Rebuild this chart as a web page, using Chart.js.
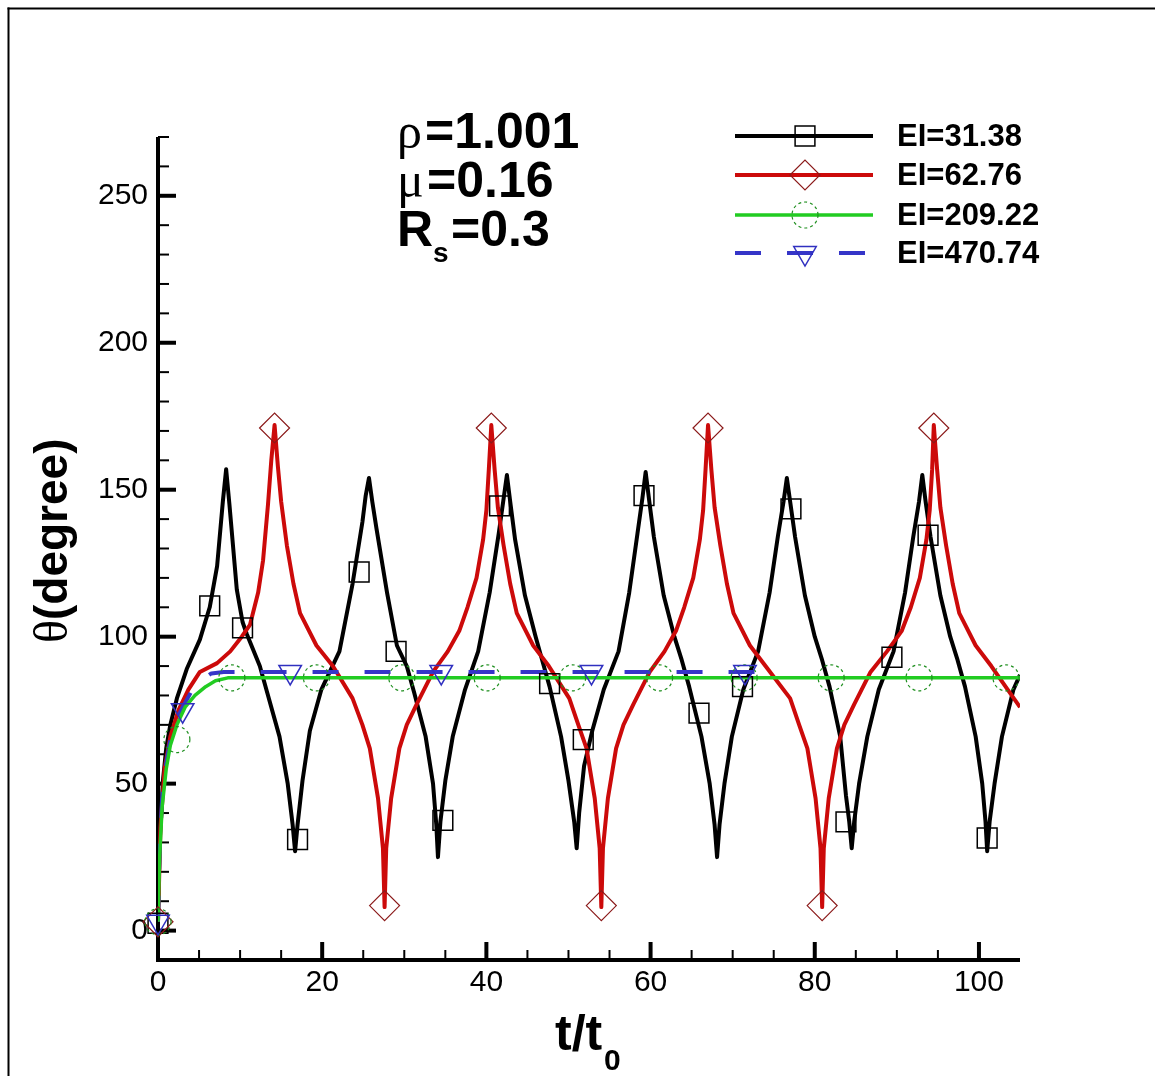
<!DOCTYPE html>
<html>
<head>
<meta charset="utf-8">
<script src="https://cdn.jsdelivr.net/npm/chart.js@4.4.1/dist/chart.umd.min.js"></script>
<style>
  html, body { margin: 0; padding: 0; background: #fff; }
  canvas { display: block; }
</style>
</head>
<body>
<canvas id="chart-theta" width="1155" height="1076"></canvas>
<script>
/* data
# ------------------------------------------------------------------------------------------------
*/
const seriesLabels = ['EI=31.38', 'EI=62.76', 'EI=209.22', 'EI=470.74'];
const xTicks = [0, 20, 40, 60, 80, 100];
const yTicks = [0, 50, 100, 150, 200, 250];

// EI=31.38 (black)
const blackT = [0, 0.2, 0.6, 1.0, 1.5, 2.3, 3.5, 5.1, 6.3, 7.2, 7.9, 8.3,
  8.7, 9.6, 10.3, 10.8, 12.4, 13.3, 14.8, 15.8, 16.4, 16.7,
  17.0, 17.6, 18.5, 19.9, 22.1, 23.7, 24.9, 25.3, 25.7,
  26.1, 26.6, 27.9, 29.1, 30.3, 31.2, 32.6, 33.5, 33.9, 34.1,
  34.4, 35.0, 35.9, 37.4, 39.0, 40.4, 41.5, 42.1, 42.5,
  42.9, 43.5, 44.7, 46.0, 46.8, 47.7, 49.1, 50.0, 50.7, 51.0,
  51.3, 51.9, 52.9, 54.3, 56.1, 57.4, 58.4, 59.0, 59.4,
  59.8, 60.4, 61.6, 62.9, 63.8, 64.7, 66.2, 67.2, 67.8, 68.1,
  68.4, 69.0, 69.9, 71.3, 73.1, 74.5, 75.5, 76.2, 76.6,
  77.0, 77.6, 78.8, 80.0, 80.9, 81.8, 83.1, 83.8, 84.2, 84.5,
  84.8, 85.4, 86.4, 87.8, 89.6, 91.0, 92.0, 92.7, 93.1,
  93.5, 94.1, 95.3, 96.5, 97.4, 98.3, 99.6, 100.4, 100.8, 101.0,
  101.3, 101.9, 102.8, 104.2, 105.0];
const blackTheta = [3, 30, 51, 62, 70, 79, 89, 99, 110, 124, 146, 157,
  145, 116, 105, 101, 90, 81, 66, 50, 36, 27,
  36, 51, 68, 82, 95, 118, 139, 148, 154,
  146, 137, 115, 97, 90, 81, 66, 50, 36, 25,
  37, 51, 66, 82, 95, 115, 135, 147, 155,
  146, 133, 114, 100, 92, 83, 66, 51, 37, 28,
  40, 56, 68, 82, 95, 115, 135, 147, 156,
  147, 134, 114, 100, 92, 83, 66, 50, 36, 25,
  36, 50, 66, 82, 95, 115, 134, 146, 154,
  146, 134, 114, 100, 92, 83, 66, 46, 37, 28,
  37, 50, 66, 82, 95, 115, 134, 146, 155,
  146, 134, 114, 100, 92, 83, 66, 50, 37, 27,
  37, 50, 66, 82, 87];
const blackMarkT = [0, 6.3, 10.3, 17.0, 24.5, 29.0, 34.7, 41.6, 47.7, 51.8, 59.2, 65.9, 71.2, 77.1, 83.8, 89.4, 93.8, 101.0];
const blackMarkTheta = [2.5, 110.5, 103, 31, 122, 95, 37.5, 144.5, 84, 65, 148, 74, 83, 143.5, 37, 93, 134.5, 31.5];

// EI=62.76 (red)
const redT = [0, 0.3, 0.8, 1.5, 2.5, 3.7, 5.1, 7.2, 8.8, 10.2, 11.2, 12.2, 12.8, 13.4, 13.8, 14.2,
  14.6, 15.0, 15.7, 16.5, 17.3, 19.3, 21.3, 23.7, 24.9, 25.8, 26.8, 27.4, 27.6,
  27.8, 28.4, 29.4, 30.3, 31.5, 33.5, 35.3, 36.7, 37.7, 38.8, 39.6, 40.0, 40.3, 40.6,
  41.0, 41.4, 42.1, 42.9, 43.7, 45.7, 47.6, 50.1, 51.2, 52.2, 53.2, 53.8, 54.0,
  54.2, 54.8, 55.8, 56.7, 57.9, 59.9, 61.7, 63.1, 64.1, 65.2, 66.0, 66.4, 66.7, 67.0,
  67.4, 67.8, 68.5, 69.3, 70.1, 72.1, 74.0, 77.0, 78.1, 79.1, 80.1, 80.7, 80.9,
  81.1, 81.7, 82.7, 83.6, 84.8, 86.8, 88.8, 90.6, 91.7, 92.8, 93.6, 94.0, 94.3, 94.5,
  94.9, 95.3, 96.0, 96.8, 97.6, 99.6, 101.5, 103.5, 105.0];
const redTheta = [3, 35, 55, 66, 75, 82, 88, 91, 95, 100, 104, 115, 126, 145, 160, 172,
  158, 146, 131, 118, 108, 97, 90, 79, 70, 62, 45, 28, 8,
  28, 45, 62, 70, 77, 88, 95, 102, 110, 120, 133, 143, 157, 172,
  157, 144, 131, 118, 108, 97, 90, 79, 70, 62, 45, 28, 8,
  28, 45, 62, 70, 77, 88, 95, 102, 110, 120, 133, 143, 157, 172,
  157, 144, 131, 118, 108, 97, 90, 79, 70, 62, 45, 28, 8,
  28, 45, 62, 70, 77, 88, 95, 102, 110, 120, 133, 143, 157, 172,
  157, 144, 131, 118, 108, 97, 90, 82, 76];
const redMarkT = [0, 14.2, 27.6, 40.6, 54.0, 67.0, 80.9, 94.5];
const redMarkTheta = [3, 171, 8.5, 171, 8.5, 171, 8.5, 171];

// EI=209.22 (green)
const greenT = [0, 0.2, 0.5, 1.0, 1.5, 2.3, 3.3, 4.5, 5.8, 7.0, 8.5, 105];
const greenTheta = [3, 25, 42, 55, 63, 70, 76, 80, 83, 85, 86, 86];
const greenMarkT = [0, 2.3, 9.0, 19.3, 29.7, 40.1, 50.5, 61.1, 71.4, 82.0, 92.7, 103.3];
const greenMarkTheta = [3, 65, 86, 86, 86, 86, 86, 86, 86, 86, 86, 86];

// EI=470.74 (blue, dashed)
const blueT = [0, 0.2, 0.5, 1.0, 1.5, 2.3, 3.0, 4.0, 5.2, 6.5, 8.0, 73.0];
const blueTheta = [3, 28, 45, 57, 65, 72, 76, 81, 85, 87.5, 88, 88];
const blueMarkT = [0, 3.0, 16.1, 34.5, 52.8, 71.5];
const blueMarkTheta = [3, 75, 88, 88, 88, 88];

/* styles
# ------------------------------------------------------------------------------------------------
*/
const SANS = '"Liberation Sans", Arial, sans-serif';
const SERIF = '"Liberation Serif", "DejaVu Serif", serif';
const lineColors = ['#000000', '#cc0a0a', '#22cc22', '#3535c8'];
const markColors = ['#000000', '#8b1a1a', '#1f8f1f', '#3030c0'];
const markStyles = ['rect', 'rectRot', 'circle', 'triangle'];
const markRadius = [14, 15, 13, 13];

function pts(ts, vs) {
  return ts.map((t, i) => ({ x: t, y: vs[i] }));
}

function lineSet(i, ts, vs, extra) {
  return Object.assign({
    label: seriesLabels[i],
    data: pts(ts, vs),
    borderColor: lineColors[i],
    borderWidth: 4,
    pointRadius: 0,
    pointHoverRadius: 0,
    tension: 0,
    fill: false,
    borderJoinStyle: 'round'
  }, extra || {});
}

function markSet(i, ts, vs, extra) {
  return Object.assign({
    label: seriesLabels[i] + ' markers',
    data: pts(ts, vs),
    showLine: false,
    pointStyle: markStyles[i],
    pointRadius: markRadius[i],
    pointHoverRadius: markRadius[i],
    pointBorderColor: markColors[i],
    pointBorderWidth: 1.5,
    pointBackgroundColor: 'rgba(0,0,0,0)',
    clip: false
  }, extra || {});
}

const datasets = [
  lineSet(0, blackT, blackTheta, { order: 8 }),
  lineSet(1, redT, redTheta, { order: 7 }),
  lineSet(3, blueT, blueTheta, { order: 6, borderDash: [26, 26] }),
  lineSet(2, greenT, greenTheta, { order: 5, borderWidth: 3.5 }),
  markSet(0, blackMarkT, blackMarkTheta, { order: 4 }),
  markSet(1, redMarkT, redMarkTheta, { order: 3, pointBorderWidth: 1.2 }),
  markSet(2, greenMarkT, greenMarkTheta, { order: 2, pointBorderWidth: 1.2, dashedMarks: true }),
  markSet(3, blueMarkT, blueMarkTheta, { order: 1, pointRotation: 180 })
];

/* axes, legend and labels
# ------------------------------------------------------------------------------------------------
*/
function seg(ctx, x1, y1, x2, y2) {
  ctx.beginPath();
  ctx.moveTo(x1, y1);
  ctx.lineTo(x2, y2);
  ctx.stroke();
}

function legendMark(ctx, style, x, y, r) {
  ctx.beginPath();
  if (style === 'rect') {
    const s = r * Math.SQRT1_2;
    ctx.rect(x - s, y - s, 2 * s, 2 * s);
  } else if (style === 'rectRot') {
    ctx.moveTo(x - r, y); ctx.lineTo(x, y - r); ctx.lineTo(x + r, y); ctx.lineTo(x, y + r);
    ctx.closePath();
  } else if (style === 'circle') {
    ctx.arc(x, y, r, 0, Math.PI * 2);
  } else {
    const h = r * Math.sqrt(3) / 2;
    ctx.moveTo(x - h, y - r / 2); ctx.lineTo(x + h, y - r / 2); ctx.lineTo(x, y + r);
    ctx.closePath();
  }
  ctx.stroke();
}

const decor = {
  id: 'decor',
  beforeDatasetDraw(chart, args) {
    if (chart.data.datasets[args.index].dashedMarks) {
      chart.ctx.save();
      chart.ctx.setLineDash([3, 3]);
    }
  },
  afterDatasetDraw(chart, args) {
    if (chart.data.datasets[args.index].dashedMarks) chart.ctx.restore();
  },
  beforeDatasetsDraw(chart) {
    const ctx = chart.ctx, xs = chart.scales.x, ys = chart.scales.y;
    const L = chart.chartArea.left, R = chart.chartArea.right;
    const T = chart.chartArea.top, B = chart.chartArea.bottom;
    ctx.save();
    ctx.strokeStyle = '#000';
    ctx.lineCap = 'butt';

    // minor ticks, pointing inward
    ctx.lineWidth = 2;
    for (let v = 10; v <= 270; v += 10) {
      if (v % 50 === 0) continue;
      const y = ys.getPixelForValue(v);
      seg(ctx, L, y, L + 11, y);
    }
    for (let v = 5; v < 105; v += 5) {
      if (v % 20 === 0) continue;
      const x = xs.getPixelForValue(v);
      seg(ctx, x, B, x, B - 10);
    }

    // major ticks
    ctx.lineWidth = 4;
    yTicks.forEach(v => {
      const y = ys.getPixelForValue(v);
      seg(ctx, L, y, L + 18, y);
    });
    xTicks.forEach(v => {
      const x = xs.getPixelForValue(v);
      seg(ctx, x, B, x, B - 18);
    });

    // axis lines
    seg(ctx, L, T, L, B + 2);
    seg(ctx, L - 2, B, R, B);
    ctx.restore();
  },
  afterDraw(chart) {
    const ctx = chart.ctx;
    ctx.save();

    // legend
    const rows = [136, 175, 215, 253];
    const order = [0, 1, 2, 3];
    order.forEach(i => {
      const y = rows[i];
      ctx.strokeStyle = lineColors[i];
      ctx.lineWidth = i === 2 ? 3.5 : 4;
      ctx.setLineDash(i === 3 ? [26, 26] : []);
      seg(ctx, 735, y, 873, y);
      ctx.setLineDash(i === 2 ? [3, 3] : []);
      ctx.strokeStyle = markColors[i];
      ctx.lineWidth = i === 1 || i === 2 ? 1.2 : 1.5;
      legendMark(ctx, markStyles[i], 805, y, markRadius[i]);
      ctx.setLineDash([]);
      ctx.fillStyle = '#000';
      ctx.font = 'bold 31px ' + SANS;
      ctx.textBaseline = 'middle';
      ctx.textAlign = 'left';
      ctx.fillText(seriesLabels[i], 897, y + 1);
    });

    // parameters
    ctx.textBaseline = 'alphabetic';
    ctx.fillStyle = '#000';
    ctx.font = '50px ' + SERIF;
    ctx.fillText('\u03C1', 397, 148);
    ctx.fillText('\u03BC', 397, 197);
    ctx.font = 'bold 50px ' + SANS;
    ctx.fillText('=1.001', 425, 148);
    ctx.fillText('=0.16', 427, 197);
    ctx.fillText('R', 397, 246);
    ctx.font = 'bold 28px ' + SANS;
    ctx.fillText('s', 433, 262);
    ctx.font = 'bold 50px ' + SANS;
    ctx.fillText('=0.3', 451, 246);

    // x title
    ctx.font = 'bold 50px ' + SANS;
    ctx.fillText('t/t', 555, 1050);
    ctx.font = 'bold 30px ' + SANS;
    ctx.fillText('0', 604, 1070);

    // y title
    ctx.save();
    ctx.translate(67, 643);
    ctx.rotate(-Math.PI / 2);
    ctx.font = '48px ' + SERIF;
    ctx.fillText('\u03B8', 0, 0);
    const w = ctx.measureText('\u03B8').width;
    ctx.font = 'bold 46px ' + SANS;
    ctx.fillText('(degree)', w, 0);
    ctx.restore();

    // frame edge
    ctx.strokeStyle = '#000';
    ctx.lineWidth = 2;
    seg(ctx, 8.5, 1076, 8.5, 7.5);
    seg(ctx, 7.5, 8.5, 1155, 8.5);
    ctx.restore();
  }
};

/* chart
# ------------------------------------------------------------------------------------------------
*/
const canvas = document.getElementById('chart-theta');

new Chart(canvas, {
  type: 'line',
  data: { datasets: datasets },
  options: {
    responsive: false,
    animation: false,
    events: [],
    layout: { padding: { top: 137, right: 135, left: 0, bottom: 0 } },
    plugins: {
      legend: { display: false },
      tooltip: { enabled: false }
    },
    scales: {
      x: {
        type: 'linear',
        min: 0,
        max: 105,
        grid: { display: false, drawTicks: false },
        border: { display: false },
        ticks: {
          color: '#000',
          font: { family: SANS, size: 30 },
          padding: 5,
          maxRotation: 0,
          autoSkip: false
        },
        afterBuildTicks: s => { s.ticks = xTicks.map(v => ({ value: v })); },
        afterFit: s => { s.height = 116; }
      },
      y: {
        type: 'linear',
        min: -10,
        max: 270,
        grid: { display: false, drawTicks: false },
        border: { display: false },
        ticks: {
          color: '#000',
          font: { family: SANS, size: 30 },
          padding: 10,
          autoSkip: false
        },
        afterBuildTicks: s => { s.ticks = yTicks.map(v => ({ value: v })); },
        afterFit: s => { s.width = 158; }
      }
    }
  },
  plugins: [decor]
});
</script>
</body>
</html>
